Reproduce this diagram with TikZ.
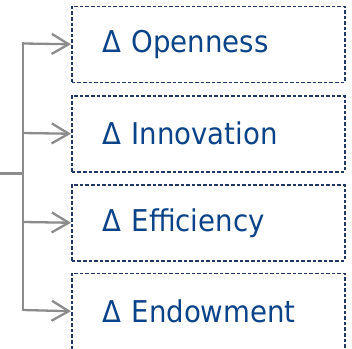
\documentclass[tikz,border=0pt]{standalone}
\usepackage{fontspec}
\setmainfont{DejaVu Sans}[FakeStretch=0.92]
\usetikzlibrary{arrows.meta}
\definecolor{boxline}{HTML}{1F3864}
\definecolor{boxtext}{HTML}{0B4388}
\definecolor{conn}{HTML}{8C8C8C}
\tikzset{
  factorbox/.style={draw=boxline, line width=1.5pt, dash pattern=on 3.6pt off 2pt,
    minimum width=273pt, minimum height=76pt, inner xsep=31pt, text width=211pt,
    align=left, text=boxtext, font=\fontsize{30}{34}\selectfont, anchor=north west},
  connline/.style={draw=conn, line width=2.3pt},
  connarrow/.style={connline, -{Straight Barb[length=17pt, width=20pt, line width=2.3pt]}}
}
\begin{document}
\begin{tikzpicture}[x=1pt,y=1pt]
\useasboundingbox (0,0) rectangle (352,-348);
\clip (0,0) rectangle (352,-348);
\node[factorbox] (b1) at (71,-5.5) {Δ Openness};
\node[factorbox] (b2) at (71,-95) {Δ Innovation};
\node[factorbox] (b3) at (71,-184) {Δ Efficiency};
\node[factorbox] (b4) at (71,-272.5) {Δ Endowment};
\coordinate (in) at (0,-173.5);
\coordinate (j) at (23.3,-173.5);
\coordinate (t1) at (23.3,-43.5);
\coordinate (t2) at (23.3,-133);
\coordinate (t3) at (23.3,-222);
\coordinate (t4) at (23.3,-310);
\draw[connline] (in) -- (j);
\draw[connline] ([yshift=1.15pt]t1) -- ([yshift=-1.15pt]t4);
\draw[connarrow] (t1) -- (b1.west);
\draw[connarrow] (t2) -- (b2.west);
\draw[connarrow] (t3) -- (b3.west);
\draw[connarrow] (t4) -- (b4.west);
\end{tikzpicture}
\end{document}
